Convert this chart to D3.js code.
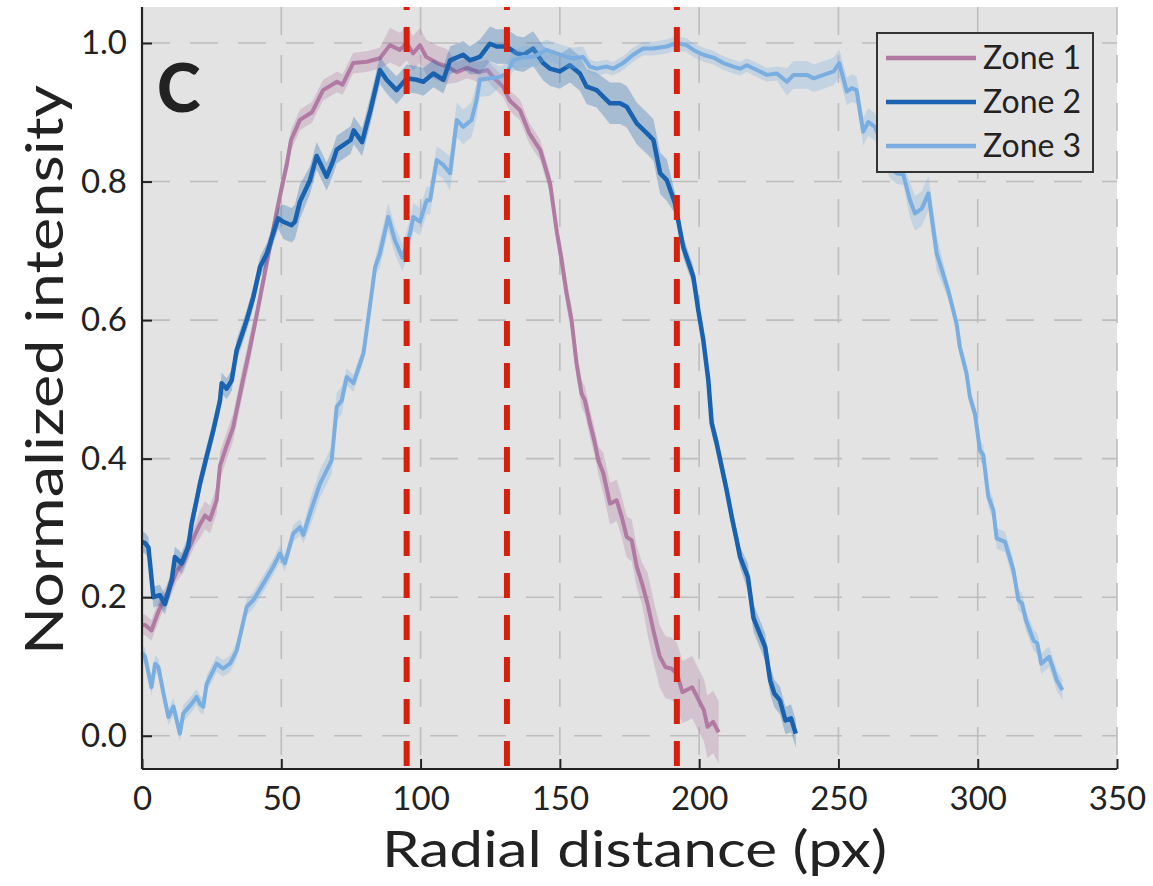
<!DOCTYPE html>
<html>
<head>
<meta charset="utf-8">
<script src="https://cdn.jsdelivr.net/npm/d3@7"></script>
<style>
  body { margin: 0; background: #fff; }
  text { font-family: Lato, "Open Sans", sans-serif; fill: #222; }
</style>
</head>
<body>
<svg id="chart" width="1153" height="886"></svg>
<script>
// radial profiles: [distance (px), normalized intensity]
const zone1 = [[0,0.16],[1.1,0.16],[3.4,0.152],[5.2,0.172],[7,0.19],[8.8,0.203],[10.7,0.22],[12.5,0.238],[14.8,0.25],[16.6,0.268],[19,0.29],[20.8,0.305],[22.6,0.318],[24.4,0.312],[26.8,0.34],[28,0.39],[30.5,0.42],[32.7,0.445],[36,0.509],[38.5,0.555],[41,0.604],[45,0.687],[48.5,0.759],[50.6,0.8],[52,0.825],[53.5,0.86],[56.7,0.889],[61,0.9],[65,0.932],[70,0.944],[72,0.94],[75.8,0.971],[80.7,0.973],[85.4,0.978],[89,0.997],[92.6,0.99],[95,1.0],[97.3,0.985],[99.8,0.997],[102,0.98],[106,0.971],[109.5,0.966],[113,0.958],[116.7,0.964],[121,0.958],[124,0.961],[126,0.951],[129.6,0.937],[132,0.917],[135.7,0.903],[139,0.87],[143,0.845],[146.5,0.797],[149,0.725],[150.5,0.69],[152.4,0.639],[154.2,0.6],[156,0.537],[157.8,0.494],[159,0.484],[160.8,0.451],[162.6,0.422],[163.8,0.398],[165.6,0.379],[168,0.335],[170.4,0.34],[172.2,0.316],[174,0.287],[175.8,0.282],[177.6,0.244],[179.5,0.22],[181.5,0.19],[183.7,0.15],[185.8,0.115],[187.9,0.099],[190,0.097],[192,0.09],[194,0.063],[197.5,0.07],[201.7,0.037],[203,0.013],[205,0.02],[207,0.005]];

const zone2 = [[0,0.28],[1.1,0.278],[2.3,0.272],[4.1,0.2],[6.4,0.203],[8.2,0.19],[10.7,0.225],[11.8,0.258],[14.2,0.249],[16.6,0.273],[17.8,0.306],[19.6,0.34],[20.8,0.364],[23.2,0.403],[25.6,0.441],[28,0.484],[28.6,0.509],[30.4,0.501],[32.2,0.513],[34,0.557],[35.2,0.571],[37.6,0.6],[40,0.634],[42.4,0.677],[44.8,0.696],[47.1,0.725],[48.9,0.747],[50.7,0.742],[53.7,0.737],[54.9,0.742],[56.7,0.771],[60.3,0.802],[62.7,0.837],[66.3,0.807],[68.7,0.831],[69.9,0.846],[74.9,0.86],[76,0.874],[79,0.857],[82,0.903],[85.4,0.961],[87.8,0.947],[91.4,0.932],[95,0.949],[98.6,0.947],[101,0.944],[104.6,0.956],[108.2,0.947],[110.6,0.975],[115.3,0.983],[117.7,0.975],[121.3,0.98],[124.9,0.999],[127.3,0.995],[130.9,0.995],[134.5,0.985],[136.9,0.983],[140.4,0.992],[144,0.971],[146.5,0.963],[150,0.959],[153.6,0.968],[157.2,0.956],[159.6,0.937],[163.2,0.932],[168,0.913],[171.6,0.913],[174,0.908],[177.6,0.884],[181.2,0.87],[183.6,0.86],[186,0.812],[188.4,0.802],[191.3,0.769],[194.3,0.705],[197.9,0.663],[199.7,0.614],[201.5,0.571],[203.3,0.513],[204.5,0.451],[206.3,0.422],[208.1,0.388],[209.9,0.354],[211.7,0.316],[213.5,0.282],[214.7,0.258],[217.5,0.229],[219.5,0.17],[221.5,0.15],[223.7,0.128],[225.5,0.08],[227,0.061],[229,0.051],[231,0.022],[233,0.025],[234.7,0.003]];

const zone3 = [[0,0.12],[1.1,0.114],[3.4,0.07],[4.7,0.104],[5.9,0.099],[7.7,0.061],[9.5,0.027],[11.3,0.042],[13.6,0.003],[14.8,0.032],[17.8,0.046],[19.6,0.056],[20.8,0.046],[22,0.042],[23.2,0.075],[26.8,0.104],[29.1,0.097],[31.6,0.104],[34,0.123],[37.6,0.186],[40,0.196],[43.6,0.22],[47.1,0.244],[49.5,0.263],[51.3,0.249],[54.3,0.292],[56.7,0.301],[57.9,0.29],[60.3,0.321],[63.9,0.364],[66.3,0.383],[68.1,0.398],[69.9,0.475],[71.7,0.484],[73.5,0.518],[75.9,0.509],[79.5,0.552],[81.3,0.605],[83.7,0.677],[85.4,0.696],[88.4,0.749],[90.8,0.715],[93.5,0.69],[96.2,0.725],[97.4,0.749],[99.8,0.742],[102.2,0.773],[103.4,0.773],[105.8,0.831],[108.2,0.824],[110.6,0.812],[113,0.889],[115.3,0.879],[118.3,0.889],[120.1,0.918],[121.3,0.947],[124.9,0.949],[128.5,0.951],[130.9,0.956],[133.3,0.975],[136.9,0.98],[140.4,0.98],[142.8,0.985],[145.2,0.99],[148.8,0.985],[152.4,0.98],[154.8,0.978],[158.3,0.98],[160.8,0.966],[163.2,0.963],[166.8,0.966],[169.1,0.963],[172.7,0.971],[176.3,0.983],[179.9,0.992],[183.5,0.992],[188.3,0.995],[191.9,1.0],[195.5,0.997],[197.9,0.99],[201.5,0.983],[205.1,0.979],[208.7,0.971],[212.3,0.966],[214.7,0.963],[217.1,0.968],[220.7,0.961],[224.3,0.954],[227.9,0.956],[231.5,0.944],[233.9,0.954],[238.7,0.954],[241.1,0.949],[244.7,0.954],[248.3,0.959],[250.3,0.971],[253,0.93],[254.8,0.935],[256.5,0.932],[258.9,0.872],[260.7,0.886],[263.1,0.879],[266,0.85],[268.5,0.82],[270.9,0.812],[273.3,0.81],[275.7,0.773],[277.5,0.754],[279.9,0.761],[282.3,0.783],[285.3,0.696],[289.4,0.643],[292.4,0.595],[293.6,0.561],[296,0.523],[297.2,0.489],[299,0.465],[300.8,0.412],[302,0.405],[303.8,0.345],[305.6,0.326],[306.8,0.285],[309.8,0.28],[312.8,0.239],[314.6,0.196],[315.9,0.191],[317.3,0.167],[320,0.138],[321.4,0.133],[322.8,0.104],[325.6,0.114],[326.9,0.099],[328.4,0.08],[330.4,0.066]];

// shaded error band half-width, as [from distance, half-width]
const band1 = [[0,0.015],[20,0.02],[40,0.015],[88,0.025],[112,0.015],[150,0.02],[165,0.03],[180,0.045]];
const band2 = [[0,0.015],[50,0.025],[60,0.02],[120,0.025],[165,0.03],[190,0.015],[215,0.02]];
const band3 = [[0,0.012],[60,0.02],[72,0.012],[85,0.02],[110,0.025],[125,0.015],[160,0.01],[228,0.02],[268,0.015],[275,0.025],[286,0.012],[300,0.015]];

const zoneNames = ["Zone 1", "Zone 2", "Zone 3"];
const zoneColors = ["#b07aa3", "#1862b0", "#7aaee0"];
const markers = [95, 131, 192];   // red dashed reference lines
const xTicks = [0, 50, 100, 150, 200, 250, 300, 350];
const yTicks = [0, 0.2, 0.4, 0.6, 0.8, 1.0];

const svg = d3.select("#chart");
const plot = { left: 142, right: 1117, top: 7, bottom: 769 };

const x = d3.scaleLinear().domain([0, 350]).range([plot.left, plot.right]);
const y = d3.scaleLinear().domain([-0.048, 1.052]).range([plot.bottom, plot.top]);

// plot background
svg.append("rect")
    .attr("x", plot.left).attr("y", plot.top)
    .attr("width", plot.right - plot.left).attr("height", plot.bottom - plot.top)
    .attr("fill", "#e3e3e3");

// dashed grid
svg.append("g").selectAll("line")
    .data(xTicks)
    .join("line")
    .attr("x1", d => x(d)).attr("x2", d => x(d))
    .attr("y1", plot.top).attr("y2", plot.bottom)
    .attr("stroke", "#bdbdbd").attr("stroke-width", 1.6)
    .attr("stroke-dasharray", "28,20");

svg.append("g").selectAll("line")
    .data(yTicks)
    .join("line")
    .attr("x1", plot.left).attr("x2", plot.right)
    .attr("y1", d => y(d)).attr("y2", d => y(d))
    .attr("stroke", "#bdbdbd").attr("stroke-width", 1.6)
    .attr("stroke-dasharray", "28,20");

function halfWidth(bands, d) {
    let w = bands[0][1];
    bands.forEach(b => { if (d >= b[0]) w = b[1]; });
    return w;
}

const line = d3.line().x(d => x(d[0])).y(d => y(d[1]));

const series = [zone1, zone2, zone3];
const bands = [band1, band2, band3];

series.forEach((data, i) => {
    const area = d3.area()
        .x(d => x(d[0]))
        .y0(d => y(d[1] - halfWidth(bands[i], d[0])))
        .y1(d => y(d[1] + halfWidth(bands[i], d[0])));

    svg.append("path")
        .datum(data)
        .attr("d", area)
        .attr("fill", zoneColors[i])
        .attr("fill-opacity", 0.3);

    svg.append("path")
        .datum(data)
        .attr("d", line)
        .attr("fill", "none")
        .attr("stroke", zoneColors[i])
        .attr("stroke-width", i === 1 ? 4.5 : 4)
        .attr("stroke-linejoin", "round");
});

// red reference lines
svg.append("g").selectAll("line")
    .data(markers)
    .join("line")
    .attr("x1", d => x(d)).attr("x2", d => x(d))
    .attr("y1", plot.top).attr("y2", plot.bottom)
    .attr("stroke", "#d4200c").attr("stroke-width", 6)
    .attr("stroke-dasharray", "25,17")
    .attr("stroke-dashoffset", 22);

// axes
const xAxis = svg.append("g")
    .attr("transform", `translate(0,${plot.bottom})`)
    .call(d3.axisBottom(x).tickValues(xTicks).tickSize(-10).tickPadding(18).tickSizeOuter(0));
const yAxis = svg.append("g")
    .attr("transform", `translate(${plot.left},0)`)
    .call(d3.axisLeft(y).tickValues(yTicks).tickFormat(d3.format(".1f")).tickSize(-10).tickPadding(15).tickSizeOuter(0));

[xAxis, yAxis].forEach(g => {
    g.select(".domain").attr("stroke", "#222").attr("stroke-width", 2.2);
    g.selectAll(".tick line").attr("stroke", "#222").attr("stroke-width", 2);
    g.selectAll(".tick text")
        .style("font-family", "Lato, sans-serif")
        .style("font-size", "33px")
        .attr("fill", "#222");
});
xAxis.select(".domain").attr("d", `M${plot.left},0H${plot.right}`);
yAxis.select(".domain").attr("d", `M0,${plot.top}V${plot.bottom}`);

// axis titles
svg.append("text")
    .attr("x", (plot.left + plot.right) / 2 + 5)
    .attr("y", 867)
    .attr("text-anchor", "middle")
    .attr("textLength", 505)
    .attr("lengthAdjust", "spacingAndGlyphs")
    .style("font-size", "50px")
    .text("Radial distance (px)");

svg.append("text")
    .attr("transform", "translate(63,370) rotate(-90)")
    .attr("text-anchor", "middle")
    .attr("textLength", 570)
    .attr("lengthAdjust", "spacingAndGlyphs")
    .style("font-size", "53px")
    .text("Normalized intensity");

// panel letter
svg.append("text")
    .attr("x", 157).attr("y", 112)
    .style("font-size", "66px")
    .style("font-weight", 900)
    .attr("fill", "#1a1a1a")
    .text("C");

// legend
const legend = svg.append("g");
legend.append("rect")
    .attr("x", 877).attr("y", 33)
    .attr("width", 216).attr("height", 139)
    .attr("fill", "#e3e3e3")
    .attr("stroke", "#333").attr("stroke-width", 2);

zoneNames.forEach((name, i) => {
    const ly = 58 + i * 44;
    legend.append("line")
        .attr("x1", 886).attr("x2", 976)
        .attr("y1", ly).attr("y2", ly)
        .attr("stroke", zoneColors[i])
        .attr("stroke-width", 4.5);
    legend.append("text")
        .attr("x", 983).attr("y", ly + 11)
        .style("font-size", "32px")
        .text(name);
});
</script>
</body>
</html>
